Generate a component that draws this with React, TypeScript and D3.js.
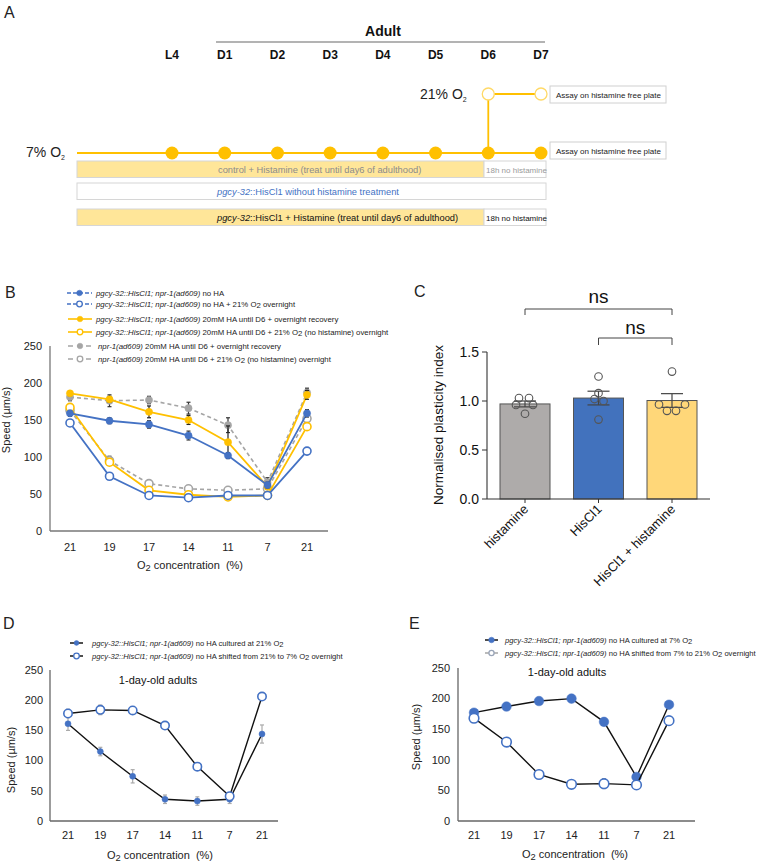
import React from "react";
import * as d3 from "d3";

const FONT = "'Liberation Sans', Arial, Helvetica, sans-serif";
const BLUE = "#4472C4";
const YELLOW = "#FFC000";
const LIGHTYELLOW = "#FFE699";
const GRAY = "#A5A5A5";

// ---------- Panel A ----------
const days = ["L4", "D1", "D2", "D3", "D4", "D5", "D6", "D7"];

// ---------- Panel B ----------
const o2Labels = ["21", "19", "17", "14", "11", "7", "21"];
const bBlueFilled = [159, 149, 144, 129, 102, 62, 159];
const bBlueFilledErr = [4, 4, 5, 6, 4, 4, 5];
const bBlueOpen = [146, 74, 48, 45, 48, 48, 108];
const bBlueOpenErr = [3, 4, 2, 2, 2, 2, 3];
const bYellowFilled = [186, 178, 161, 150, 120, 60, 184];
const bYellowFilledErr = [3, 4, 8, 6, 22, 4, 6];
const bYellowOpen = [167, 93, 55, 49, 46, 48, 141];
const bYellowOpenErr = [5, 4, 3, 3, 3, 3, 5];
const bGrayFilled = [181, 176, 177, 166, 143, 66, 187];
const bGrayFilledErr = [5, 8, 5, 8, 10, 6, 6];
const bGrayOpen = [163, 95, 64, 57, 55, 57, 152];
const bGrayOpenErr = [4, 6, 3, 3, 3, 3, 5];
const speedTicks = [0, 50, 100, 150, 200, 250];

// ---------- Panel C ----------
const cGroups = ["histamine", "HisCl1", "HisCl1 + histamine"];
const cMeans = [0.97, 1.03, 1.005];
const cSem = [0.03, 0.07, 0.07];
const cPointsHistamine = [1.03, 1.03, 0.96, 0.96, 0.87];
const cPointsHisCl1 = [1.25, 1.08, 1.02, 1.0, 0.81];
const cPointsBoth = [1.3, 0.965, 0.965, 0.9, 0.9];
const cTicks = [0, 0.5, 1.0, 1.5];

// ---------- Panel D ----------
const dFilled = [161, 115, 74, 36, 33, 36, 144];
const dFilledErr = [11, 7, 11, 7, 7, 7, 15];
const dOpen = [178, 184, 183, 158, 90, 41, 206];
const dOpenErr = [7, 8, 6, 6, 3, 3, 6];

// ---------- Panel E ----------
const eFilled = [177, 187, 196, 200, 162, 72, 190];
const eFilledErr = [3, 3, 3, 3, 4, 4, 3];
const eOpen = [168, 129, 76, 60, 61, 59, 164];
const eOpenErr = [6, 6, 6, 6, 8, 7, 5];

type Series = {
  values: number[];
  err: number[];
  color: string;
  lineColor: string;
  dash?: string;
  open: boolean;
  r: number;
  sw: number;
  errColor: string;
};

function O2({ x, y, size, anchor = "start", prefix = "", suffix = "", fill = "#222", subSize }: any) {
  const ss = subSize || size * 0.85;
  return (
    <text x={x} y={y} fontSize={size} textAnchor={anchor} fill={fill} fontFamily={FONT} style={{ whiteSpace: "pre" }}>
      {prefix}O
      <tspan fontSize={ss} dy={size * 0.22}>2</tspan>
      <tspan dy={-size * 0.22}>{suffix}</tspan>
    </text>
  );
}

function LinePanel({
  xRange, yRange, axisX, axisEnd, series, tickLabelX, xLabelY, xLabelX, tickY, yLabelX, yLabelY, axisColor,
}: any) {
  const x = d3.scalePoint<number>().domain(d3.range(o2Labels.length)).range(xRange);
  const y = d3.scaleLinear().domain([0, 250]).range(yRange);
  const line = d3.line<number>().x((_, i) => x(i) as number).y((d) => y(d));
  return (
    <g fontFamily={FONT}>
      <line x1={axisX} x2={axisX} y1={y(250)} y2={y(0)} stroke={axisColor} strokeWidth={1.3} />
      <line x1={axisX} x2={axisEnd} y1={y(0)} y2={y(0)} stroke={axisColor} strokeWidth={1.3} />
      {speedTicks.map((t) => (
        <text key={t} x={tickLabelX} y={y(t)} dy="0.35em" textAnchor="end" fontSize={11} fill="#222">
          {t}
        </text>
      ))}
      {o2Labels.map((l, i) => (
        <text key={i} x={x(i)} y={tickY} textAnchor="middle" fontSize={11} fill="#222">
          {l}
        </text>
      ))}
      <O2 x={xLabelX} y={xLabelY} size={11} anchor="middle" suffix=" concentration  (%)" />
      <text
        transform={`translate(${yLabelX},${yLabelY}) rotate(-90)`}
        textAnchor="middle"
        fontSize={11}
        fill="#222"
      >
        Speed (µm/s)
      </text>
      {series.map((s: Series, si: number) => (
        <g key={si}>
          <path d={line(s.values) || ""} fill="none" stroke={s.lineColor} strokeWidth={s.sw} strokeDasharray={s.dash} />
          {s.values.map((v, i) => {
            const cx = x(i) as number;
            return (
              <g key={i}>
                <line x1={cx} x2={cx} y1={y(v - s.err[i])} y2={y(v + s.err[i])} stroke={s.errColor} strokeWidth={1.2} />
                <line x1={cx - 2} x2={cx + 2} y1={y(v + s.err[i])} y2={y(v + s.err[i])} stroke={s.errColor} strokeWidth={1.2} />
                <line x1={cx - 2} x2={cx + 2} y1={y(v - s.err[i])} y2={y(v - s.err[i])} stroke={s.errColor} strokeWidth={1.2} />
              </g>
            );
          })}
          {s.values.map((v, i) => (
            <circle
              key={"m" + i}
              cx={x(i) as number}
              cy={y(v)}
              r={s.r}
              fill={s.open ? "#fff" : s.color}
              stroke={s.color}
              strokeWidth={s.open ? 1.6 : 0.5}
            />
          ))}
        </g>
      ))}
    </g>
  );
}

function PanelA() {
  const x = d3.scalePoint<string>().domain(days).range([172, 541]);
  const y7 = 153;
  const y21 = 94;
  const bars = [161, 183, 209];
  const barH = 16.5;
  return (
    <g fontFamily={FONT}>
      <text x={4} y={18} fontSize={16} fill="#222">A</text>
      <text x={383} y={36} fontSize={14} fontWeight="bold" textAnchor="middle" fill="#111">Adult</text>
      <line x1={216} x2={545} y1={42} y2={42} stroke="#9a9a9a" strokeWidth={1.5} />
      {days.map((d) => (
        <text key={d} x={x(d)} y={59} fontSize={12} fontWeight="bold" textAnchor="middle" fill="#111">
          {d}
        </text>
      ))}
      <O2 x={26} y={157} size={14} prefix="7% " subSize={7} />
      <O2 x={420} y={99} size={14} prefix="21% " subSize={7} />
      <line x1={77} x2={x("D7")} y1={y7} y2={y7} stroke={YELLOW} strokeWidth={1.8} />
      <line x1={x("D6")} x2={x("D6")} y1={y21 + 6} y2={y7} stroke={YELLOW} strokeWidth={1.8} />
      <line x1={(x("D6") as number) + 6} x2={(x("D7") as number) - 6} y1={y21} y2={y21} stroke={YELLOW} strokeWidth={1.8} />
      {days.map((d) => (
        <circle key={d} cx={x(d)} cy={y7} r={6.5} fill={YELLOW} />
      ))}
      <circle cx={x("D6")} cy={y21} r={6} fill="#fff" stroke="#FFD966" strokeWidth={1.3} />
      <circle cx={x("D7")} cy={y21} r={6} fill="#fff" stroke="#FFD966" strokeWidth={1.3} />
      {[86, 142].map((by, i) => (
        <g key={i}>
          <rect x={550} y={by} width={116} height={17} fill="#fff" stroke="#d0d0d0" strokeWidth={1} />
          <text x={556} y={by + 11.5} fontSize={8} fill="#222">Assay on histamine free plate</text>
        </g>
      ))}
      {/* bar 1 */}
      <rect x={77} y={bars[0]} width={407} height={barH} fill={LIGHTYELLOW} stroke="#d6d6d6" />
      <rect x={484} y={bars[0]} width={62} height={barH} fill="#fff" stroke="#d6d6d6" />
      <text x={218} y={bars[0] + 11.5} fontSize={9.3} fill="#8c8c8c">control + Histamine (treat until day6 of adulthood)</text>
      <text x={486} y={bars[0] + 11.5} fontSize={8} fill="#9a9a9a">18h no histamine</text>
      {/* bar 2 */}
      <rect x={77} y={bars[1]} width={469} height={barH} fill="#fff" stroke="#d6d6d6" />
      <text x={217} y={bars[1] + 11.5} fontSize={9.3} fill={BLUE}>
        <tspan fontStyle="italic">pgcy-32</tspan>::HisCl1 without histamine treatment
      </text>
      {/* bar 3 */}
      <rect x={77} y={bars[2]} width={407} height={barH} fill={LIGHTYELLOW} stroke="#d6d6d6" />
      <rect x={484} y={bars[2]} width={62} height={barH} fill="#fff" stroke="#d6d6d6" />
      <text x={217} y={bars[2] + 11.5} fontSize={9.3} fill="#111">
        <tspan fontStyle="italic">pgcy-32</tspan>::HisCl1 + Histamine (treat until day6 of adulthood)
      </text>
      <text x={486} y={bars[2] + 11.5} fontSize={8} fill="#111">18h no histamine</text>
    </g>
  );
}

function LegendRow({ y, x1, x2, color, lineColor, dash, open, textX, italic, rest, o2, o2rest, r = 2.8, fontSize = 7.8 }: any) {
  const mx = (x1 + x2) / 2;
  return (
    <g fontFamily={FONT}>
      <line x1={x1} x2={x2} y1={y} y2={y} stroke={lineColor || color} strokeWidth={1.6} strokeDasharray={dash} />
      <circle cx={mx} cy={y} r={r} fill={open ? "#fff" : color} stroke={color} strokeWidth={open ? 1.3 : 0.5} />
      <text x={textX} y={y + 2.7} fontSize={fontSize} fill="#222">
        <tspan fontStyle="italic">{italic}</tspan>
        {rest}
        {o2 ? (
          <>
            O<tspan fontSize={fontSize} dy={1.5}>2</tspan>
            <tspan dy={-1.5}>{o2rest}</tspan>
          </>
        ) : null}
      </text>
    </g>
  );
}

function PanelB() {
  const rows = [293, 304, 319, 332, 346, 359];
  const g = "pgcy-32::HisCl1; npr-1(ad609)";
  const series: Series[] = [
    { values: bGrayFilled, err: bGrayFilledErr, color: GRAY, lineColor: GRAY, dash: "4,3", open: false, r: 3.6, sw: 1.6, errColor: "#333" },
    { values: bGrayOpen, err: bGrayOpenErr, color: GRAY, lineColor: GRAY, dash: "4,3", open: true, r: 4, sw: 1.6, errColor: "#333" },
    { values: bYellowFilled, err: bYellowFilledErr, color: YELLOW, lineColor: YELLOW, open: false, r: 3.6, sw: 1.8, errColor: "#222" },
    { values: bYellowOpen, err: bYellowOpenErr, color: YELLOW, lineColor: YELLOW, open: true, r: 4, sw: 1.8, errColor: "#333" },
    { values: bBlueFilled, err: bBlueFilledErr, color: BLUE, lineColor: BLUE, open: false, r: 3.6, sw: 1.8, errColor: "#333" },
    { values: bBlueOpen, err: bBlueOpenErr, color: BLUE, lineColor: BLUE, open: true, r: 4, sw: 1.8, errColor: "#333" },
  ];
  return (
    <g fontFamily={FONT}>
      <text x={5} y={298} fontSize={16} fill="#222">B</text>
      <LegendRow y={rows[0]} x1={67} x2={92} color={BLUE} dash="4,2" textX={96} italic={g} rest=" no HA" />
      <LegendRow y={rows[1]} x1={67} x2={92} color={BLUE} dash="4,2" open textX={96} italic={g} rest=" no HA + 21% " o2 o2rest=" overnight" />
      <LegendRow y={rows[2]} x1={68} x2={92} color={YELLOW} textX={96} italic={g} rest=" 20mM HA until D6 + overnight recovery" />
      <LegendRow y={rows[3]} x1={68} x2={92} color={YELLOW} open textX={96} italic={g} rest=" 20mM HA until D6 + 21% " o2 o2rest=" (no histamine) overnight" />
      <LegendRow y={rows[4]} x1={68} x2={92} color={GRAY} dash="5,4" textX={98} italic="npr-1(ad609)" rest=" 20mM HA until D6 + overnight recovery" />
      <LegendRow y={rows[5]} x1={68} x2={92} color={GRAY} dash="5,4" open textX={98} italic="npr-1(ad609)" rest=" 20mM HA until D6 + 21% " o2 o2rest=" (no histamine) overnight" />
      <LinePanel
        xRange={[70, 307]}
        yRange={[531, 346]}
        axisX={50}
        axisEnd={328}
        series={series}
        tickLabelX={42}
        tickY={551}
        xLabelX={190}
        xLabelY={569}
        yLabelX={10}
        yLabelY={420}
        axisColor="#777"
      />
    </g>
  );
}

function PanelC() {
  const x = d3.scalePoint<string>().domain(cGroups).range([525, 672]);
  const y = d3.scaleLinear().domain([0, 1.5]).range([499, 352]);
  const bw = 50;
  const fills = ["#AEABAA", "#4272BD", "#FFD779"];
  const pts = [cPointsHistamine, cPointsHisCl1, cPointsBoth];
  const offsets = [
    [-6, 4, -9, 8, 0],
    [0, 0, -4, 5, 0],
    [0, -13, 13, -5, 4],
  ];
  return (
    <g fontFamily={FONT}>
      <text x={414} y={297} fontSize={16} fill="#222">C</text>
      {cGroups.map((gname, i) => {
        const cx = x(gname) as number;
        return (
          <g key={gname}>
            <rect x={cx - bw / 2} y={y(cMeans[i])} width={bw} height={y(0) - y(cMeans[i])} fill={fills[i]} stroke="#555" strokeWidth={1} />
            <line x1={cx} x2={cx} y1={y(cMeans[i] - cSem[i])} y2={y(cMeans[i] + cSem[i])} stroke="#444" strokeWidth={1.2} />
            <line x1={cx - 11} x2={cx + 11} y1={y(cMeans[i] + cSem[i])} y2={y(cMeans[i] + cSem[i])} stroke="#444" strokeWidth={1.2} />
            <line x1={cx - 11} x2={cx + 11} y1={y(cMeans[i] - cSem[i])} y2={y(cMeans[i] - cSem[i])} stroke="#444" strokeWidth={1.2} />
            {pts[i].map((p, j) => (
              <circle key={j} cx={cx + offsets[i][j]} cy={y(p)} r={3.8} fill="none" stroke="#555" strokeWidth={1.1} />
            ))}
            <line x1={cx} x2={cx} y1={y(0)} y2={y(0) + 4} stroke="#333" strokeWidth={1} />
            <text
              transform={`translate(${cx + 4},${y(0) + 11}) rotate(-45)`}
              textAnchor="end"
              fontSize={13}
              fill="#111"
            >
              {gname}
            </text>
          </g>
        );
      })}
      <line x1={487} x2={487} y1={y(1.5)} y2={y(0)} stroke="#333" strokeWidth={1.1} />
      <line x1={487} x2={710} y1={y(0)} y2={y(0)} stroke="#333" strokeWidth={1.1} />
      {cTicks.map((t) => (
        <g key={t}>
          <line x1={482} x2={487} y1={y(t)} y2={y(t)} stroke="#333" strokeWidth={1} />
          <text x={479} y={y(t)} dy="0.36em" textAnchor="end" fontSize={14} fill="#111">
            {d3.format(".1f")(t)}
          </text>
        </g>
      ))}
      <text transform={`translate(443,425) rotate(-90)`} textAnchor="middle" fontSize={13.5} fill="#111">
        Normalised plasticity index
      </text>
      <path d={`M${x(cGroups[0])},315 V309 H${x(cGroups[2])} V315`} fill="none" stroke="#444" strokeWidth={1} />
      <text x={(x(cGroups[0])! + x(cGroups[2])!) / 2} y={303} textAnchor="middle" fontSize={19} fill="#111">ns</text>
      <path d={`M${x(cGroups[1])},345 V338 H${x(cGroups[2])} V345`} fill="none" stroke="#444" strokeWidth={1} />
      <text x={(x(cGroups[1])! + x(cGroups[2])!) / 2} y={334} textAnchor="middle" fontSize={19} fill="#111">ns</text>
    </g>
  );
}

function PanelD() {
  const g = "pgcy-32::HisCl1; npr-1(ad609)";
  const series: Series[] = [
    { values: dFilled, err: dFilledErr, color: BLUE, lineColor: "#111", open: false, r: 3, sw: 1.4, errColor: "#aaa" },
    { values: dOpen, err: dOpenErr, color: BLUE, lineColor: "#111", open: true, r: 4.2, sw: 1.4, errColor: "#aaa" },
  ];
  return (
    <g fontFamily={FONT}>
      <text x={3} y={629} fontSize={16} fill="#222">D</text>
      <LegendRow y={643} x1={70} x2={83} color={BLUE} lineColor="#222" textX={92} italic={g} rest=" no HA cultured at 21% " o2 o2rest="" r={2.4} fontSize={7.6} />
      <LegendRow y={656} x1={70} x2={83} color={BLUE} lineColor="#222" open textX={92} italic={g} rest=" no HA shifted from 21% to 7% " o2 o2rest=" overnight" r={2.8} fontSize={7.6} />
      <text x={158} y={684} textAnchor="middle" fontSize={11} fill="#111">1-day-old adults</text>
      <LinePanel
        xRange={[68, 262]}
        yRange={[821, 670]}
        axisX={50}
        axisEnd={278}
        series={series}
        tickLabelX={43}
        tickY={839}
        xLabelX={160}
        xLabelY={859}
        yLabelX={15}
        yLabelY={760}
        axisColor="#666"
      />
    </g>
  );
}

function PanelE() {
  const g = "pgcy-32::HisCl1; npr-1(ad609)";
  const series: Series[] = [
    { values: eFilled, err: eFilledErr, color: BLUE, lineColor: "#111", open: false, r: 4.8, sw: 1.4, errColor: "#aaa" },
    { values: eOpen, err: eOpenErr, color: BLUE, lineColor: "#111", open: true, r: 4.8, sw: 1.4, errColor: "#888" },
  ];
  return (
    <g fontFamily={FONT}>
      <text x={409} y={629} fontSize={16} fill="#222">E</text>
      <LegendRow y={640} x1={485} x2={498} color={BLUE} lineColor="#222" textX={505} italic={g} rest=" no HA cultured at 7% " o2 o2rest="" r={2.8} fontSize={7.6} />
      <LegendRow y={653} x1={485} x2={498} color="#9aa5b8" lineColor="#aaa" open textX={505} italic={g} rest=" no HA shifted from 7% to 21% " o2 o2rest=" overnight" r={2.6} fontSize={7.6} />
      <text x={567} y={676} textAnchor="middle" fontSize={11} fill="#111">1-day-old adults</text>
      <LinePanel
        xRange={[474, 669]}
        yRange={[821, 668]}
        axisX={458}
        axisEnd={695}
        series={series}
        tickLabelX={450}
        tickY={839}
        xLabelX={575}
        xLabelY={858}
        yLabelX={420}
        yLabelY={737}
        axisColor="#666"
      />
    </g>
  );
}

export default function App() {
  return (
    <svg
      width={779}
      height={863}
      viewBox="0 0 779 863"
      style={{ position: "absolute", left: 0, top: 0, background: "#fff" }}
    >
      <rect width={779} height={863} fill="#fff" />
      <PanelA />
      <PanelB />
      <PanelC />
      <PanelD />
      <PanelE />
    </svg>
  );
}
